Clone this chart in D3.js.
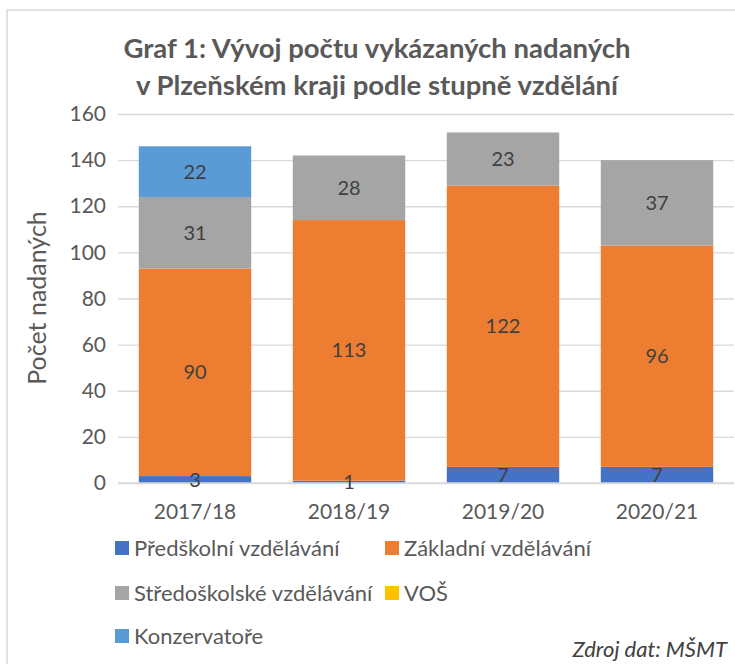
<!DOCTYPE html>
<html>
<head>
<meta charset="utf-8">
<script src="https://cdn.jsdelivr.net/npm/d3@7"></script>
<style>
  body { margin: 0; background: #fff; overflow: hidden; }
  svg { display: block; font-family: Lato, "Open Sans", sans-serif; }
</style>
</head>
<body>
<svg></svg>
<script>
const w = 735
const h = 664

// data
const years = ['2017/18', '2018/19', '2019/20', '2020/21']
const seriesNames = ['Předškolní vzdělávání', 'Základní vzdělávání', 'Středoškolské vzdělávání', 'VOŠ', 'Konzervatoře']
const predskolni = [3, 1, 7, 7]
const zakladni = [90, 113, 122, 96]
const stredoskolske = [31, 28, 23, 37]
const vos = [0, 0, 0, 0]
const konzervatore = [22, 0, 0, 0]
const yTicks = [0, 20, 40, 60, 80, 100, 120, 140, 160]
const colors = ['#4472C4', '#ED7D31', '#A5A5A5', '#FFC000', '#5B9BD5']

const svg = d3.select('svg')
  .attr('width', w)
  .attr('height', h)

// chart border (only left and top edges are visible)
svg.append('path')
  .attr('d', `M7,${h} V10 H${w}`)
  .attr('fill', 'none')
  .attr('stroke', '#D9D9D9')
  .attr('stroke-width', 1.5)

const margin = {top: 114, right: 1, bottom: 181, left: 118}
const innerWidth = w - margin.left - margin.right
const innerHeight = h - margin.top - margin.bottom

const table = years.map((y, i) => ({
  year: y,
  s0: predskolni[i], s1: zakladni[i], s2: stredoskolske[i], s3: vos[i], s4: konzervatore[i]
}))
const keys = ['s0', 's1', 's2', 's3', 's4']
const stacked = d3.stack().keys(keys)(table)

const xScale = d3.scaleBand()
  .domain(years)
  .range([0, innerWidth])
  .paddingInner(0.27)
  .paddingOuter(0.135)

const yScale = d3.scaleLinear()
  .domain([0, 160])
  .range([innerHeight, 0])

const g = svg.append('g')
  .attr('transform', `translate(${margin.left}, ${margin.top})`)

// gridlines + y axis labels
const yAxisG = g.append('g')
  .call(d3.axisLeft(yScale).tickValues(yTicks).tickSize(-innerWidth).tickPadding(12))
yAxisG.select('.domain').remove()
yAxisG.selectAll('.tick line').attr('stroke', '#D9D9D9').attr('stroke-width', 1.3)
yAxisG.selectAll('.tick text')
  .attr('font-size', 21).attr('fill', '#595959')
  .attr('font-family', 'Lato, sans-serif')

// bars
const layer = g.selectAll('.layer').data(stacked)
  .enter().append('g')
  .attr('class', 'layer')
  .attr('fill', (d, i) => colors[i])

layer.selectAll('rect').data(d => d)
  .enter().append('rect')
  .attr('x', d => xScale(d.data.year))
  .attr('y', d => yScale(d[1]))
  .attr('width', xScale.bandwidth())
  .attr('height', d => yScale(d[0]) - yScale(d[1]))

// x axis line
g.append('line')
  .attr('x1', 0).attr('x2', innerWidth)
  .attr('y1', innerHeight).attr('y2', innerHeight)
  .attr('stroke', '#D9D9D9').attr('stroke-width', 1.5)

// value labels, drawn on top of all bars
const segs = stacked.flatMap(s => s.filter(v => v[1] - v[0] > 0))
g.append('g').selectAll('text').data(segs)
  .enter().append('text')
  .attr('x', d => xScale(d.data.year) + xScale.bandwidth() / 2)
  .attr('y', d => yScale((d[0] + d[1]) / 2))
  .attr('dy', '0.35em')
  .attr('text-anchor', 'middle')
  .attr('font-size', 20)
  .attr('fill', '#404040')
  .text(d => d[1] - d[0])

const xAxisG = g.append('g')
  .attr('transform', `translate(0, ${innerHeight})`)
  .call(d3.axisBottom(xScale).tickSize(0).tickPadding(21))
xAxisG.select('.domain').remove()
xAxisG.selectAll('.tick text')
  .attr('font-size', 21).attr('fill', '#595959')
  .attr('font-family', 'Lato, sans-serif')

// y axis title
svg.append('text')
  .attr('transform', 'translate(46, 298) rotate(-90)')
  .attr('text-anchor', 'middle')
  .attr('font-size', 25)
  .attr('fill', '#595959')
  .text('Počet nadaných')

// title
const title = svg.append('text')
  .attr('text-anchor', 'middle')
  .attr('font-size', 27.5)
  .attr('font-weight', 'bold')
  .attr('fill', '#595959')
title.append('tspan').attr('x', 377).attr('y', 58).text('Graf 1: Vývoj počtu vykázaných nadaných')
title.append('tspan').attr('x', 377).attr('y', 95).text('v Plzeňském kraji podle stupně vzdělání')

// legend
const legendPos = [[115, 548], [385, 548], [115, 593], [385, 593], [115, 636]]
const legend = svg.selectAll('.legend').data(seriesNames)
  .enter().append('g')
  .attr('class', 'legend')
  .attr('transform', (d, i) => `translate(${legendPos[i][0]}, ${legendPos[i][1]})`)
legend.append('rect')
  .attr('x', 0).attr('y', -7)
  .attr('width', 14).attr('height', 14)
  .attr('fill', (d, i) => colors[i])
legend.append('text')
  .attr('x', 19).attr('dy', '0.35em')
  .attr('font-size', 22).attr('fill', '#595959')
  .text(d => d)

// source
svg.append('text')
  .attr('x', 727).attr('y', 657)
  .attr('text-anchor', 'end')
  .attr('font-size', 22)
  .attr('font-style', 'italic')
  .attr('fill', '#404040')
  .text('Zdroj dat: MŠMT')
</script>
</body>
</html>
